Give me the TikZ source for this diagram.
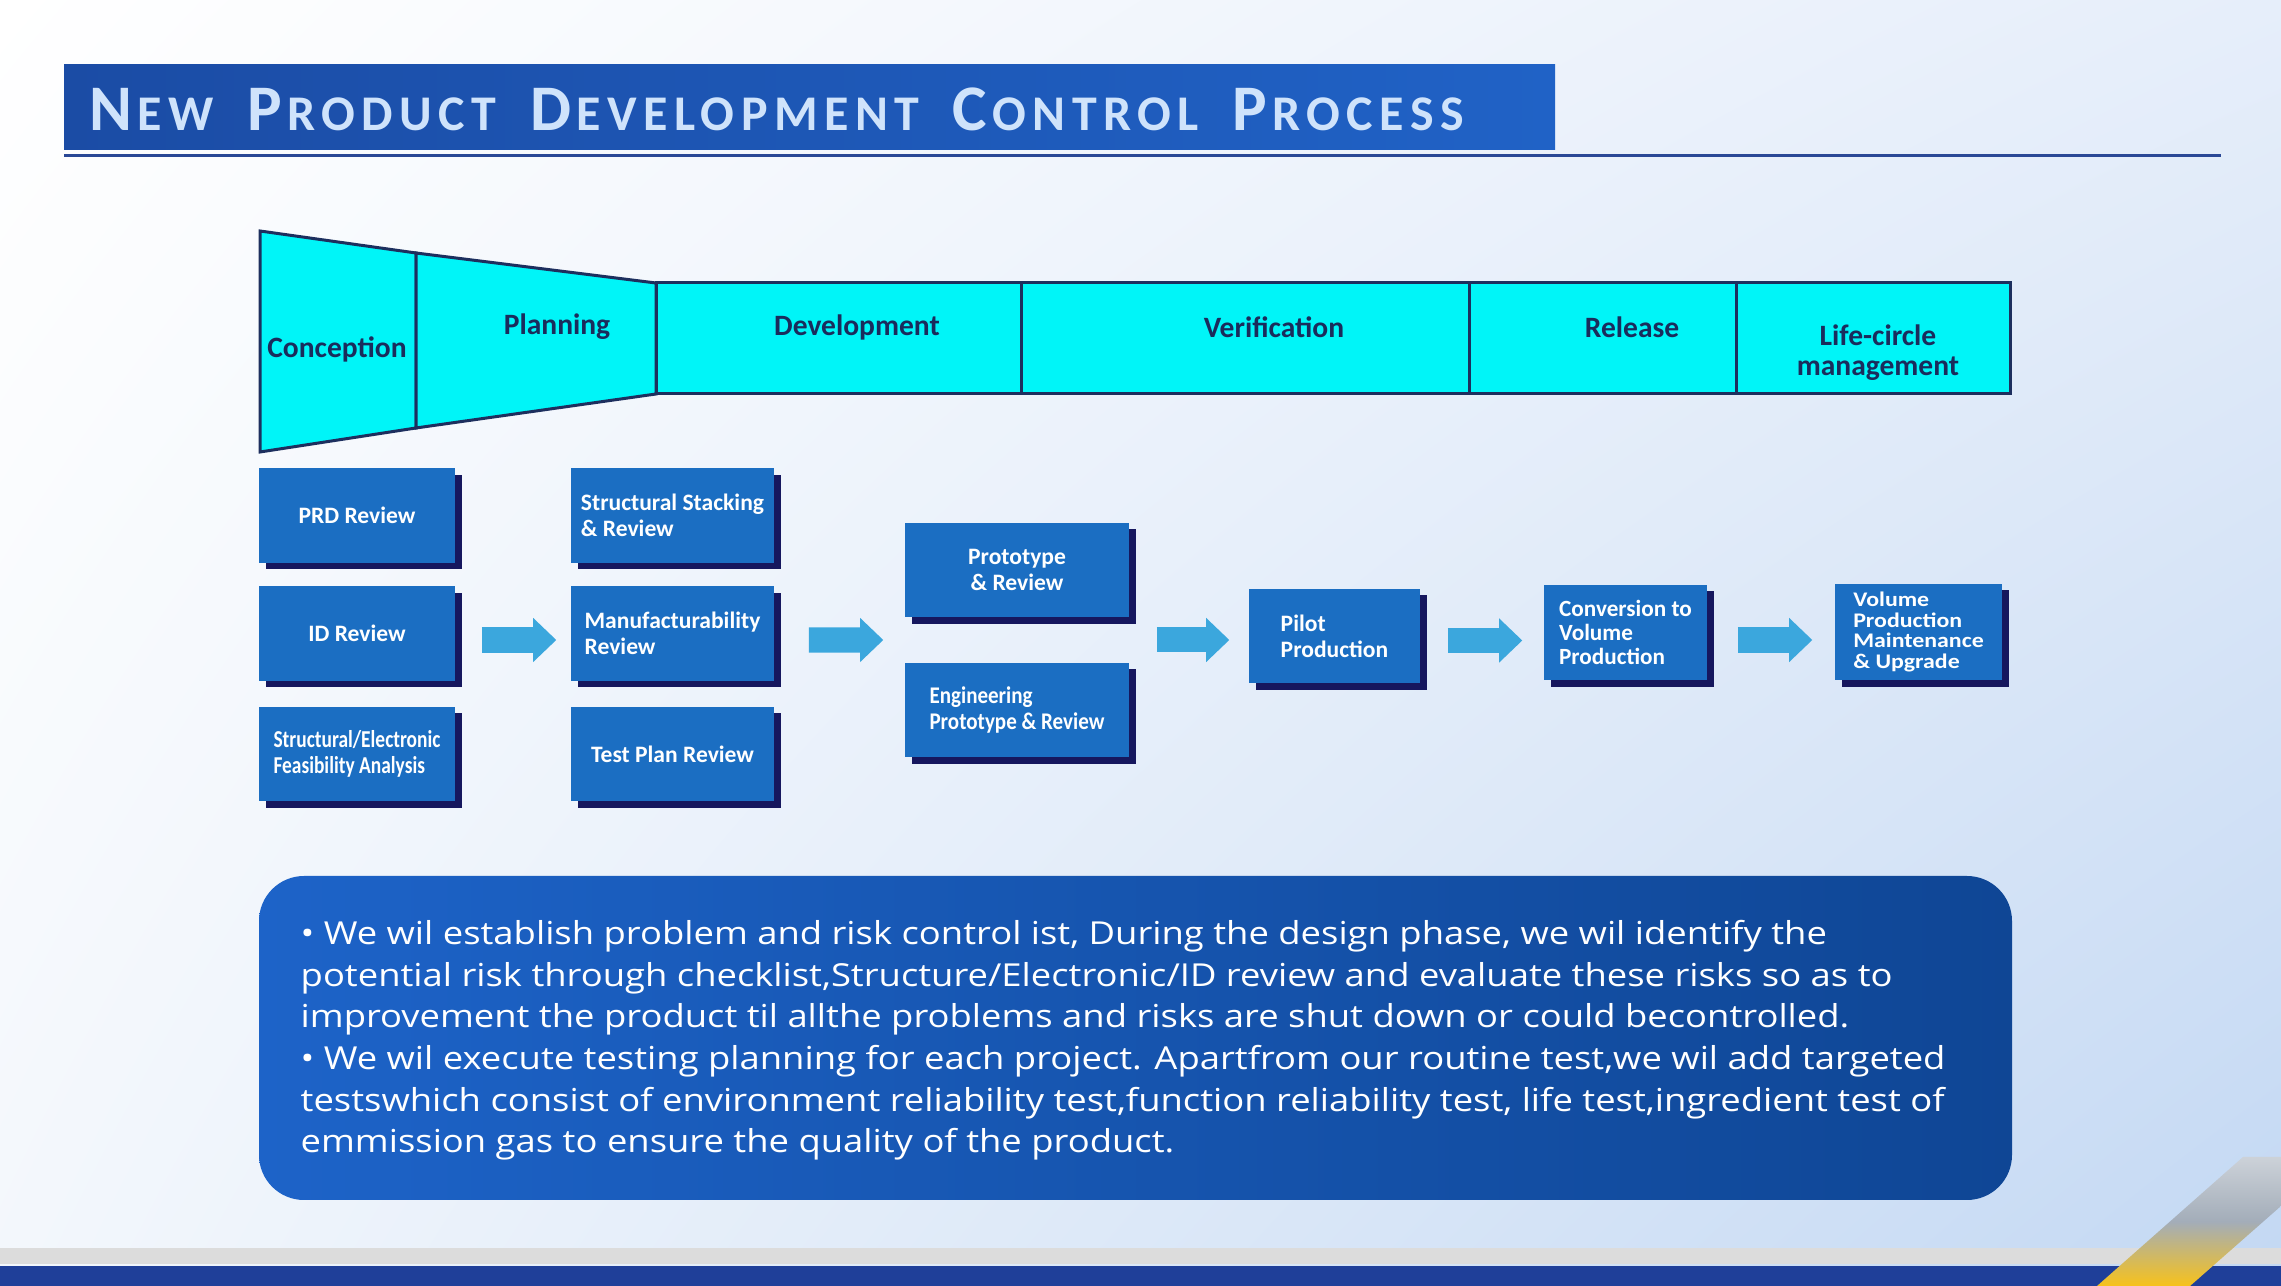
\documentclass[tikz,border=0pt]{standalone}
\usepackage{fontspec}
\setmainfont{Carlito}
\newfontfamily\notefont[FakeStretch=1.15]{Open Sans}
\newfontfamily\titlefont[LetterSpace=13]{Carlito}
\newfontfamily\narrowfont[FakeStretch=0.8]{Carlito}
\newfontfamily\engfont[FakeStretch=0.88]{Carlito}
\newfontfamily\widefont[FakeStretch=1.15]{Carlito}
\usepackage{xcolor}
\usetikzlibrary{arrows.meta,shadows,shadings,calc}
\definecolor{bgtr}{HTML}{E6EEFA}
\definecolor{bgbl}{HTML}{F3F7FC}
\definecolor{bgbr}{HTML}{C3D8F3}
\definecolor{titlebarA}{HTML}{1B4CA5}
\definecolor{titlebarB}{HTML}{2062C6}
\definecolor{titletext}{HTML}{CFE3FB}
\definecolor{titleline}{HTML}{2A4896}
\definecolor{phasecyan}{HTML}{00F5F8}
\definecolor{phaseline}{HTML}{1D2F5E}
\definecolor{phasetext}{HTML}{1A2C5C}
\definecolor{boxblue}{HTML}{1B6EC2}
\definecolor{boxshadow}{HTML}{16175E}
\definecolor{arrowblue}{HTML}{3BA7DD}
\definecolor{noteA}{HTML}{1D63C8}
\definecolor{noteB}{HTML}{0F4695}
\definecolor{footgray}{HTML}{DCDCDC}
\definecolor{footblue}{HTML}{1F3F99}
\definecolor{stripegray}{HTML}{A3ADB9}
\definecolor{stripeyellow}{HTML}{F7C21B}
\newcommand\capword[2]{{\fontsize{18.5}{19}\selectfont#1\kern0.08em}{\fontsize{14.2}{15}\selectfont#2}}
\newcommand\tgap{\hspace{6pt} }

\begin{document}
\begin{tikzpicture}[x=0.01cm, y=-0.01cm,
	phase/.style={fill=phasecyan, draw=phaseline, line width=0.03cm},
	phaselbl/.style={text=phasetext, font=\bfseries\fontsize{8.4}{8.5}\selectfont, inner sep=0pt},
	stepbox/.style={fill=boxblue, text=white, align=left, inner sep=0pt, font=\bfseries\fontsize{6.7}{7.4}\selectfont, drop shadow={shadow xshift=0.07cm, shadow yshift=-0.065cm, fill=boxshadow, opacity=1}},
	colA/.style={minimum width=1.96cm, minimum height=0.94cm},
	colB/.style={minimum width=2.03cm, minimum height=0.94cm},
	colC/.style={minimum width=2.24cm, minimum height=0.94cm},
	flow/.style={draw=arrowblue, line width=0.25cm, -{Triangle[length=0.23cm, width=0.44cm, line width=0pt 0]}, shorten <=0.27cm, shorten >=0.2cm}
	]
	\useasboundingbox (0,0) rectangle (2281,1286);
	\shade[upper left=white, upper right=bgtr, lower left=bgbl, lower right=bgbr] (0,0) rectangle (2281,1286);

	\shade[left color=titlebarA, right color=titlebarB] (64,65) rectangle (1555,150);
	\draw[titleline, line width=0.03cm] (64,156) -- (2221,156);
	\node[anchor=base west, inner sep=0pt, text=titletext, font=\titlefont\bfseries] (ttl) at (89,131) {\capword{N}{EW}\tgap\capword{P}{RODUCT}\tgap\capword{D}{EVELOPMENT}\tgap\capword{C}{ONTROL}\tgap\capword{P}{ROCESS}};

	\draw[phase] (260,231) -- (416,253) -- (416,428) -- (260,452) -- cycle;
	\draw[phase] (416,253) -- (656,283) -- (656,394) -- (416,428) -- cycle;
	\draw[phase] (656,283) rectangle (1021,394);
	\draw[phase] (1021,283) rectangle (1469,394);
	\draw[phase] (1469,283) rectangle (1736,394);
	\draw[phase] (1736,283) rectangle (2010,394);
	\node[phaselbl] (con) at (337,349) {Conception};
	\node[phaselbl] (pla) at (557,327) {Planning};
	\node[phaselbl] (dev) at (857,327) {Development};
	\node[phaselbl] (ver) at (1274,327) {Verification};
	\node[phaselbl] (rel) at (1632,327) {Release};
	\node[phaselbl, align=center] (lcm) at (1878,353) {Life-circle\\management};

	\node[stepbox, colA] (prd) at (357,515.5) {PRD Review};
	\node[stepbox, colA] (idr) at (357,633.5) {ID Review};
	\node[stepbox, colA, font=\narrowfont\bfseries\fontsize{6.9}{7.4}\selectfont] (sfa) at (357,754) {Structural/Electronic\\Feasibility Analysis};
	\node[stepbox, colB] (ssr) at (672.5,515.5) {Structural Stacking\\\& Review};
	\node[stepbox, colB] (mfr) at (672.5,633.5) {Manufacturability\\Review};
	\node[stepbox, colB] (tpr) at (672.5,754) {Test Plan Review};
	\node[stepbox, colC, align=center] (ptr) at (1017,570) {Prototype\\\& Review};
	\node[stepbox, colC, font=\engfont\bfseries\fontsize{6.8}{7.4}\selectfont] (epr) at (1017,710) {Engineering\\Prototype \& Review};
	\node[stepbox, minimum width=1.71cm, minimum height=0.94cm] (pil) at (1334.5,636) {Pilot\\Production};
	\node[stepbox, minimum width=1.63cm, minimum height=0.95cm, font=\bfseries\fontsize{6.6}{6.9}\selectfont] (cvp) at (1625.5,632.5) {Conversion to\\Volume\\Production};
	\node[stepbox, minimum width=1.67cm, minimum height=0.96cm, font=\widefont\bfseries\fontsize{5.9}{5.95}\selectfont] (vpm) at (1918.5,632) {Volume\\Production\\Maintenance\\\& Upgrade};

	\coordinate (c3w) at ($(ptr.south west)!0.5!(epr.north west)$);
	\coordinate (c3e) at ($(ptr.south east)!0.5!(epr.north east)$);
	\draw[flow, shorten <=0.26cm, shorten >=0.14cm] ([yshift=-0.065cm]idr.east) -- ([yshift=-0.065cm]mfr.west);
	\draw[flow, shorten <=0.34cm, shorten >=0.21cm] ([yshift=-0.065cm]mfr.east) -- (c3w);
	\draw[flow, shorten >=0.19cm] (c3e) -- (c3e -| pil.west);
	\draw[flow, shorten >=0.21cm] ([yshift=-0.045cm]pil.east) -- ([yshift=-0.045cm]pil.east -| cvp.west);
	\draw[flow, shorten <=0.3cm, shorten >=0.22cm] ([yshift=-0.075cm]cvp.east) -- ([yshift=-0.075cm]cvp.east -| vpm.west);

	\shade[left color=noteA, right color=noteB, rounded corners=0.45cm] (259,876) rectangle (2012,1200);
	\node[anchor=base west, inner sep=0pt, text=white, align=left, font=\notefont\fontsize{9}{11.86}\selectfont] (txt) at (300,1153) {\textbullet\ We wil establish problem and risk control ist, During the design phase, we wil identify the\\potential risk through checklist,Structure/Electronic/ID review and evaluate these risks so as to\\improvement the product til allthe problems and risks are shut down or could becontrolled.\\\textbullet\ We wil execute testing planning for each project. Apartfrom our routine test,we wil add targeted\\testswhich consist of environment reliability test,function reliability test, life test,ingredient test of\\emmission gas to ensure the quality of the product.};

	\fill[footgray] (0,1248) rectangle (2281,1264);
	\fill[footblue] (0,1266) rectangle (2281,1286);
	\shade[top color=stripegray!55!white, bottom color=stripeyellow, middle color=stripegray] (2097,1286) -- (2243,1157) -- (2281,1157) -- (2281,1206) -- (2190,1286) -- cycle;
\end{tikzpicture}
\end{document}
